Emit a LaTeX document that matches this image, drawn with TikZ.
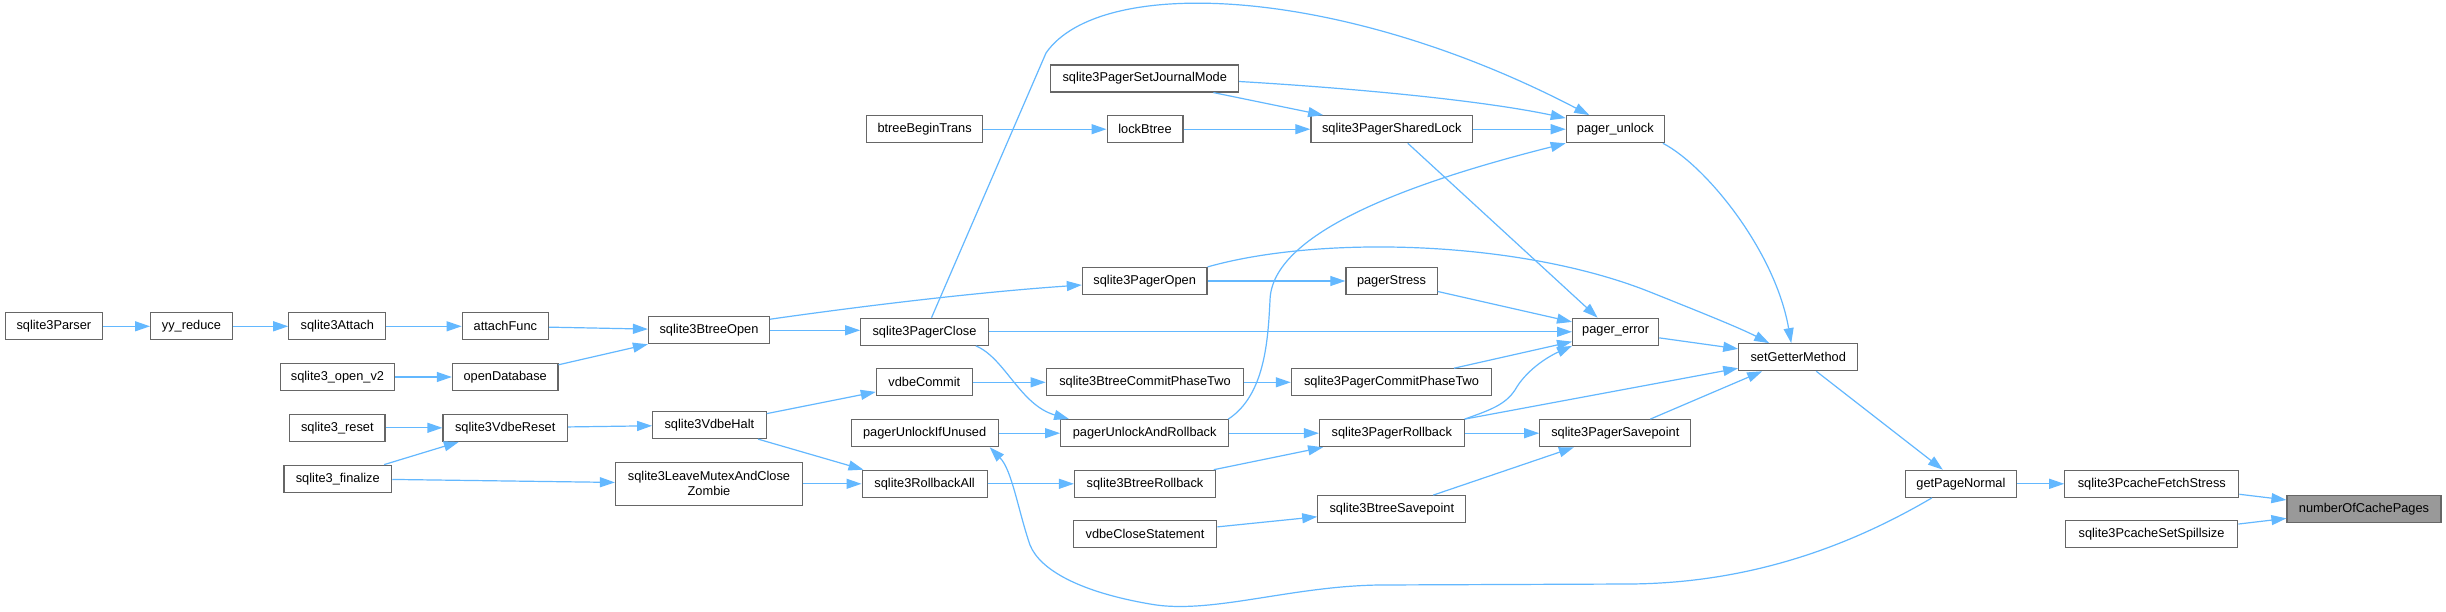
\documentclass[tikz,border=0pt]{standalone}
\usepackage{fontspec}
\setmainfont{Liberation Sans}
\usetikzlibrary{arrows.meta}
\definecolor{edgeblue}{HTML}{63B8FF}
\definecolor{boxgray}{HTML}{666666}
\definecolor{hilite}{HTML}{999999}
\begin{document}
\begin{tikzpicture}[x=1pt,y=-1pt,
  box/.style={draw=boxgray, line width=1.2pt, fill=white, minimum height=27pt, inner sep=0pt,
    font=\fontsize{12.8}{14.7}\selectfont, align=center},
  e/.style={draw=edgeblue, line width=1.2pt, -{Triangle[length=15pt,width=10pt]}}]
\fill[white] (0,0) rectangle (2446,612);
\useasboundingbox (0,0) rectangle (2446,612);

% nodes
\node[box, minimum width=97pt]    (parser)  at (53.9,326.3)  {sqlite3Parser};
\node[box, minimum width=81.6pt]  (yy)      at (191.4,326.3) {yy\_reduce};
\node[box, minimum width=97pt]    (attach)  at (337.3,326.3) {sqlite3Attach};
\node[box, minimum width=86.3pt]  (attf)    at (505.4,326.3) {attachFunc};
\node[box, minimum width=121pt]   (bto)     at (709,330.3)   {sqlite3BtreeOpen};
\node[box, minimum width=114.5pt] (openv2)  at (337.5,377)   {sqlite3\_open\_v2};
\node[box, minimum width=105.6pt] (opendb)  at (505.2,377)   {openDatabase};
\node[box, minimum width=95.2pt]  (reset)   at (337.3,427.8) {sqlite3\_reset};
\node[box, minimum width=124.4pt] (vreset)  at (505.2,427.8) {sqlite3VdbeReset};
\node[box, minimum width=113.5pt] (vhalt)   at (709.4,425)   {sqlite3VdbeHalt};
\node[box, minimum width=107.7pt] (final)   at (337.8,478.7) {sqlite3\_finalize};
\node[box, minimum width=187pt, minimum height=43pt] (zombie) at (709,483.7) {sqlite3LeaveMutexAndClose\\Zombie};

\node[box, minimum width=187.7pt] (sjm)     at (1144.7,78.5) {sqlite3PagerSetJournalMode};
\node[box, minimum width=116pt]   (bbt)     at (924.6,129.2) {btreeBeginTrans};
\node[box, minimum width=75.8pt]  (lockb)   at (1145,129.2)  {lockBtree};
\node[box, minimum width=161.8pt] (shl)     at (1391.8,129.2) {sqlite3PagerSharedLock};
\node[box, minimum width=98pt]    (punl)    at (1615.3,129.2) {pager\_unlock};
\node[box, minimum width=124.6pt] (popen)   at (1144.7,281)  {sqlite3PagerOpen};
\node[box, minimum width=91.2pt]  (pstress) at (1391.5,281)  {pagerStress};
\node[box, minimum width=127.5pt] (pclose)  at (924.5,331.8) {sqlite3PagerClose};
\node[box, minimum width=86pt]    (perr)    at (1615.6,331.8) {pager\_error};
\node[box, minimum width=95.9pt]  (vcommit) at (924.3,382.3) {vdbeCommit};
\node[box, minimum width=197.5pt] (bcpt)    at (1145,382.3)  {sqlite3BtreeCommitPhaseTwo};
\node[box, minimum width=200.3pt] (pcpt)    at (1391.5,382.3) {sqlite3PagerCommitPhaseTwo};
\node[box, minimum width=147pt]   (puiu)    at (924.6,433.2) {pagerUnlockIfUnused};
\node[box, minimum width=168pt]   (puar)    at (1144.7,433.2) {pagerUnlockAndRollback};
\node[box, minimum width=144.6pt] (prb)     at (1391.8,433.2) {sqlite3PagerRollback};
\node[box, minimum width=151pt]   (psp)     at (1615.3,433.2) {sqlite3PagerSavepoint};
\node[box, minimum width=125pt]   (rball)   at (924.6,483.8) {sqlite3RollbackAll};
\node[box, minimum width=141pt]   (brb)     at (1145,483.8)  {sqlite3BtreeRollback};
\node[box, minimum width=148pt]   (bsp)     at (1391.8,509.2) {sqlite3BtreeSavepoint};
\node[box, minimum width=143.5pt] (vcs)     at (1145,534.2)  {vdbeCloseStatement};
\node[box, minimum width=118.8pt] (sgm)     at (1798.2,357.2) {setGetterMethod};
\node[box, minimum width=111.2pt] (gpn)     at (1960.9,483.8) {getPageNormal};
\node[box, minimum width=174pt]   (pfs)     at (2151.8,483.8) {sqlite3PcacheFetchStress};
\node[box, minimum width=154pt, fill=hilite] (nocp) at (2364,509.2) {numberOfCachePages};
\node[box, minimum width=172.6pt] (pss)     at (2151.5,534.3) {sqlite3PcacheSetSpillsize};

% edges
\draw[e] (parser) -- (yy);
\draw[e] (yy) -- (attach);
\draw[e] (attach) -- (attf);
\draw[e] (attf) -- (bto);
\draw[e] (openv2) -- (opendb);
\draw[e] (opendb) -- (bto);
\draw[e] (reset) -- (vreset);
\draw[e] (final) -- (vreset);
\draw[e] (final) -- (zombie);
\draw[e] (vreset) -- (vhalt);
\draw[e] ([yshift=-3pt]bto.north east) .. controls (870,305) and (980,292) .. ([yshift=-4pt]popen.west);
\draw[e] (bto.east) -- (bto.east -| pclose.west);
\draw[e] (vhalt) -- (vcommit);
\draw[e] (vhalt) -- ([xshift=2pt]rball.north west);
\draw[e] (zombie.east |- rball) -- (rball.west);

\draw[e] ([xshift=7pt]pclose.north) -- (1046,53) .. controls (1100,-25) and (1340,-15) .. ([xshift=-26pt]punl.north);
\draw[e] (pclose) -- (perr);
\draw[e] ([xshift=-13pt]pclose.south east) .. controls (1005,358) and (1020,405) .. ([xshift=9pt]puar.north west);
\draw[e] (popen) -- (pstress);
\draw[e] (popen.north east) .. controls (1320,235) and (1520,240) .. (1650,292) .. controls (1700,312) and (1740,328) .. ([xshift=-29pt]sgm.north);
\draw[e] (bbt) -- (lockb);
\draw[e] (lockb) -- (shl);
\draw[e] (sjm) -- (shl);
\draw[e] ([yshift=-3pt]sjm.east) .. controls (1350,88) and (1480,100) .. ([yshift=-3pt]punl.north west);
\draw[e] (shl) -- (punl);
\draw[e] ([xshift=16pt]shl.south) -- ([xshift=-18pt]perr.north);
\draw[e] ([xshift=-1pt]puar.north east) .. controls (1265,395) and (1268,340) .. (1270,300) .. controls (1272,235) and (1400,185) .. (punl.south west);
\draw[e] (pstress) -- (perr);
\draw[e] (vcommit) -- (bcpt);
\draw[e] (bcpt) -- (pcpt);
\draw[e] (pcpt) -- (perr);
\draw[e] (puiu) -- (puar);
\draw[e] (puar) -- (prb);
\draw[e] (prb.north east) .. controls (1490,410) and (1505,405) .. (1515,390) .. controls (1525,372) and (1545,358) .. (perr.south west);
\draw[e] (prb) -- (psp);
\draw[e] (prb.north east) -- ([yshift=-11pt]sgm.west);
\draw[e] (rball) -- (brb);
\draw[e] (brb) -- (prb);
\draw[e] (vcs) -- (bsp);
\draw[e] (bsp) -- (psp);
\draw[e] ([xshift=35pt]psp.north) -- ([xshift=-36pt]sgm.south);
\draw[e] (perr) -- (sgm);
\draw[e] ([xshift=-2pt]punl.south east) .. controls (1705,165) and (1775,250) .. ([xshift=-7pt]sgm.north);
\draw[e] (sgm) -- (gpn);
\draw[e] (gpn) -- (pfs);
\draw[e] ([xshift=-29pt]gpn.south) .. controls (1860,540) and (1760,583) .. (1630,584) -- (1380,585)
   .. controls (1290,586) and (1210,615) .. (1150,604) .. controls (1080,592) and (1040,570) .. (1030,545)
   .. controls (1018,510) and (1012,470) .. ([xshift=-9pt]puiu.south east);
\draw[e] (pfs) -- (nocp);
\draw[e] (pss) -- (nocp);
\end{tikzpicture}
\end{document}
